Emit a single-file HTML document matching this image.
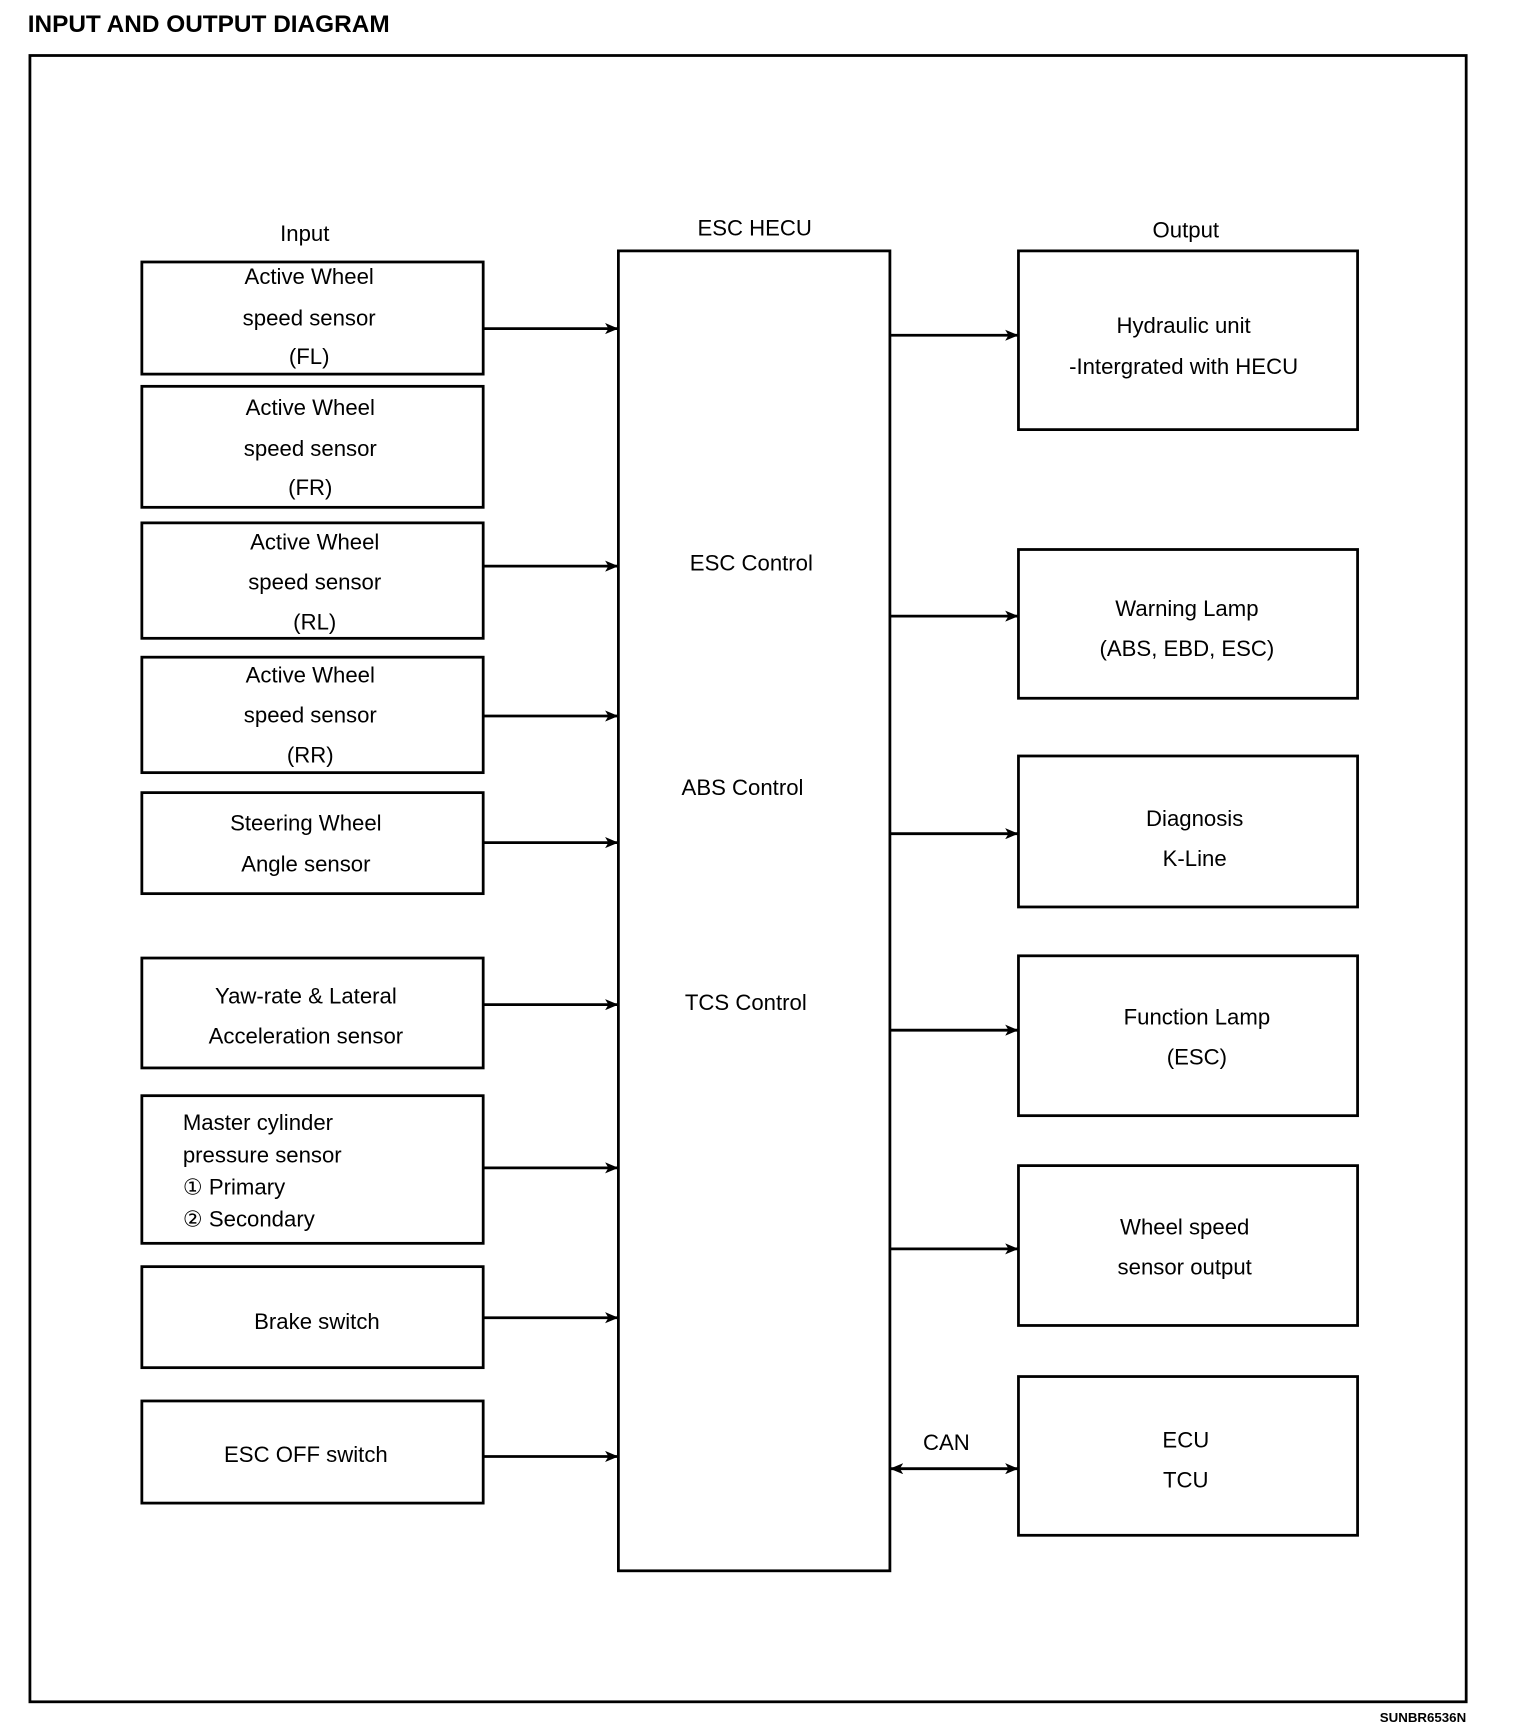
<!DOCTYPE html>
<html><head><meta charset="utf-8"><style>html,body{margin:0;padding:0;background:#fff}svg{display:block}</style></head><body>
<svg width="1536" height="1734" viewBox="0 0 1386 1562" preserveAspectRatio="none" xmlns="http://www.w3.org/2000/svg" font-family="Liberation Sans, Arial, sans-serif">
<defs><marker id="a" markerWidth="12" markerHeight="10" refX="12" refY="5" orient="auto" markerUnits="userSpaceOnUse"><path d="M0,0 L12,5 L0,10 L3,5 Z" fill="#000"/></marker>
<marker id="b" markerWidth="12" markerHeight="10" refX="0" refY="5" orient="auto" markerUnits="userSpaceOnUse"><path d="M12,0 L0,5 L12,10 L9,5 Z" fill="#000"/></marker></defs>
<text x="25" y="29" font-size="22" font-weight="bold">INPUT  AND  OUTPUT  DIAGRAM</text>
<rect x="27" y="50" width="1296" height="1483" fill="none" stroke="#000" stroke-width="2.5"/>
<g font-size="20" text-anchor="middle" fill="#000">
<text x="275" y="217">Input</text><text x="681" y="212">ESC HECU</text><text x="1070" y="214">Output</text>
<text x="678" y="514">ESC Control</text><text x="670" y="716">ABS Control</text><text x="673" y="910">TCS Control</text>
<text x="854" y="1306">CAN</text>
</g>
<g fill="none" stroke="#000" stroke-width="2.5">
<rect x="558" y="226" width="245" height="1189"/>
<rect x="128" y="236" width="308" height="101"/>
<rect x="128" y="348" width="308" height="109"/>
<rect x="128" y="471" width="308" height="104"/>
<rect x="128" y="592" width="308" height="104"/>
<rect x="128" y="714" width="308" height="91"/>
<rect x="128" y="863" width="308" height="99"/>
<rect x="128" y="987" width="308" height="133"/>
<rect x="128" y="1141" width="308" height="91"/>
<rect x="128" y="1262" width="308" height="92"/>
<rect x="919" y="226" width="306" height="161"/>
<rect x="919" y="495" width="306" height="134"/>
<rect x="919" y="681" width="306" height="136"/>
<rect x="919" y="861" width="306" height="144"/>
<rect x="919" y="1050" width="306" height="144"/>
<rect x="919" y="1240" width="306" height="143"/>
</g>
<g stroke="#000" stroke-width="2.5" marker-end="url(#a)">
<line x1="436" y1="296" x2="558" y2="296"/><line x1="436" y1="510" x2="558" y2="510"/>
<line x1="436" y1="645" x2="558" y2="645"/><line x1="436" y1="759" x2="558" y2="759"/>
<line x1="436" y1="905" x2="558" y2="905"/><line x1="436" y1="1052" x2="558" y2="1052"/>
<line x1="436" y1="1187" x2="558" y2="1187"/><line x1="436" y1="1312" x2="558" y2="1312"/>
<line x1="803" y1="302" x2="919" y2="302"/><line x1="803" y1="555" x2="919" y2="555"/>
<line x1="803" y1="751" x2="919" y2="751"/><line x1="803" y1="928" x2="919" y2="928"/>
<line x1="803" y1="1125" x2="919" y2="1125"/>
<line x1="803" y1="1323" x2="919" y2="1323" marker-start="url(#b)"/>
</g>
<g font-size="20" text-anchor="middle" fill="#000">
<text x="279" y="256">Active Wheel</text><text x="279" y="293">speed sensor</text><text x="279" y="328">(FL)</text>
<text x="280" y="374">Active Wheel</text><text x="280" y="411">speed sensor</text><text x="280" y="446">(FR)</text>
<text x="284" y="495">Active Wheel</text><text x="284" y="531">speed sensor</text><text x="284" y="567">(RL)</text>
<text x="280" y="615">Active Wheel</text><text x="280" y="651">speed sensor</text><text x="280" y="687">(RR)</text>
<text x="276" y="748">Steering Wheel</text><text x="276" y="785">Angle sensor</text>
<text x="276" y="904">Yaw-rate &amp; Lateral</text><text x="276" y="940">Acceleration sensor</text>
<text x="286" y="1197">Brake switch</text><text x="276" y="1317">ESC OFF switch</text>
<text x="1068" y="300">Hydraulic unit</text><text x="1068" y="337">-Intergrated with HECU</text>
<text x="1071" y="555">Warning Lamp</text><text x="1071" y="591">(ABS, EBD, ESC)</text>
<text x="1078" y="744">Diagnosis</text><text x="1078" y="780">K-Line</text>
<text x="1080" y="923">Function Lamp</text><text x="1080" y="959">(ESC)</text>
<text x="1069" y="1112">Wheel speed</text><text x="1069" y="1148">sensor output</text>
<text x="1070" y="1304">ECU</text><text x="1070" y="1340">TCU</text>
</g>
<g font-size="20" fill="#000">
<text x="165" y="1018">Master cylinder</text><text x="165" y="1047">pressure sensor</text>
<text x="165" y="1076">① Primary</text><text x="165" y="1105">② Secondary</text>
</g>
<text x="1323" y="1551" font-size="12" font-weight="bold" text-anchor="end">SUNBR6536N</text>
</svg>
</body></html>
